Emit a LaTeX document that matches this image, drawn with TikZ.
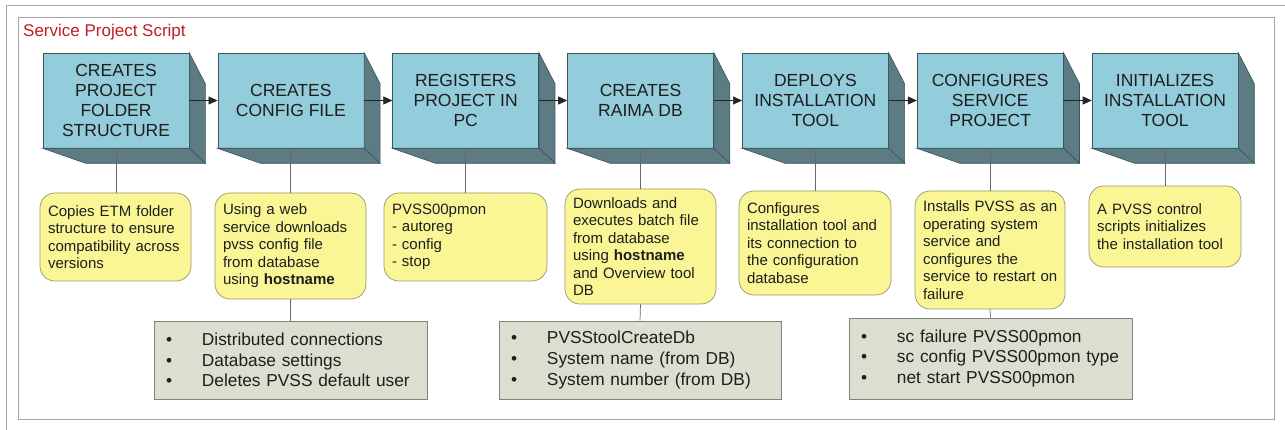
\documentclass[tikz,border=0pt]{standalone}
\usepackage{fontspec}
\setmainfont{Liberation Sans}
\usetikzlibrary{arrows.meta,calc}
\definecolor{front}{RGB}{147,204,219}
\definecolor{side}{RGB}{93,123,131}
\definecolor{edge}{RGB}{58,84,92}
\definecolor{yel}{RGB}{250,246,150}
\definecolor{yeledge}{RGB}{150,150,110}
\definecolor{gry}{RGB}{220,223,207}
\definecolor{gryedge}{RGB}{130,130,125}
\definecolor{ttl}{RGB}{192,30,36}
\definecolor{framec}{RGB}{165,165,165}
\definecolor{txt}{RGB}{30,30,30}
\newcommand\lstbullet{\makebox[36pt][l]{\textbullet}}
\begin{document}
\begin{tikzpicture}[x=1pt,y=-1pt,
  stepbox/.style={draw=edge, line width=0.6pt, fill=front, text=txt, minimum width=146pt, minimum height=95pt, inner sep=0pt, align=center, font=\fontsize{17.5}{20}\selectfont},
  face/.style={draw=edge, line width=0.6pt, fill=side},
  note/.style={draw=yeledge, line width=0.7pt, fill=yel, text=txt, rounded corners=15pt, inner xsep=8pt, inner ysep=0pt, align=left, font=\fontsize{15}{17.5}\selectfont},
  list/.style={draw=gryedge, line width=0.7pt, fill=gry, text=txt, inner xsep=12pt, inner ysep=0pt, align=left, font=\fontsize{17.3}{20.7}\selectfont},
  flow/.style={draw=black!85, line width=0.7pt, -{Triangle[length=9pt,width=8pt]}},
  link/.style={draw=black!60, line width=0.7pt}]
\useasboundingbox (0,0) rectangle (1285,430);
\fill[white] (0,0) rectangle (1285,430);
% frames
\draw[framec, line width=1pt] (6,430) -- (6,6) -- (1285,6);
\draw[framec, line width=0.8pt] (18,17) rectangle (1274,419);
\node[anchor=west, text=ttl, font=\fontsize{17}{20}\selectfont, inner sep=0pt] (title) at (23,32) {Service Project Script};
% step boxes
\node[stepbox] (b1) at (116,100.5) {CREATES\\PROJECT\\FOLDER\\STRUCTURE};
\node[stepbox] (b2) at (290.83,100.5) {CREATES\\CONFIG FILE};
\node[stepbox] (b3) at (465.67,100.5) {REGISTERS\\PROJECT IN\\PC};
\node[stepbox] (b4) at (640.5,100.5) {CREATES\\RAIMA DB};
\node[stepbox] (b5) at (815.33,100.5) {DEPLOYS\\INSTALLATION\\TOOL};
\node[stepbox] (b6) at (990.17,100.5) {CONFIGURES\\SERVICE\\PROJECT};
\node[stepbox] (b7) at (1165,100.5) {INITIALIZES\\INSTALLATION\\TOOL};
\foreach \i in {1,...,7}{
  \draw[face] (b\i.north east) -- ++(16,31) -- ($(b\i.south east)+(16,15)$) -- (b\i.south east) -- cycle;
  \draw[face] (b\i.south west) -- ++(43,15) -- ($(b\i.south east)+(16,15)$) -- (b\i.south east) -- cycle;
}
% notes
\node[note, minimum width=151pt, minimum height=88pt, text width=135pt] (n1) at (115.5,237) {\mbox{Copies ETM folder}\\\mbox{structure to ensure}\\\mbox{compatibility across}\\versions};
\node[note, minimum width=151pt, minimum height=106pt, text width=135pt] (n2) at (290.5,246) {Using a web\\\mbox{service downloads}\\\mbox{pvss config file}\\\mbox{from database}\\\mbox{using \textbf{hostname}}};
\node[note, minimum width=163pt, minimum height=88pt, text width=147pt] (n3) at (465.5,237) {PVSS00pmon\\- autoreg\\- config\\- stop};
\node[note, minimum width=151pt, minimum height=115pt, text width=135pt] (n4) at (640.5,246.5) {\mbox{Downloads and}\\\mbox{executes batch file}\\\mbox{from database}\\\mbox{using \textbf{hostname}}\\\mbox{and Overview tool}\\DB};
\node[note, minimum width=152pt, minimum height=104pt, text width=136pt] (n5) at (815,243) {Configures\\\mbox{installation tool and}\\\mbox{its connection to}\\\mbox{the configuration}\\database};
\node[note, minimum width=150pt, minimum height=118pt, text width=134pt] (n6) at (990,250) {\mbox{Installs PVSS as an}\\\mbox{operating system}\\\mbox{service and}\\\mbox{configures the}\\\mbox{service to restart on}\\failure};
\node[note, minimum width=152pt, minimum height=81pt, text width=136pt] (n7) at (1165,226.5) {\mbox{A PVSS control}\\\mbox{scripts initializes}\\\mbox{the installation tool}};
% lists
\node[list, minimum width=273pt, minimum height=78pt, text width=249pt] (g1) at (290.5,360) {\lstbullet Distributed connections\\\lstbullet Database settings\\\lstbullet Deletes PVSS default user};
\node[list, minimum width=282pt, minimum height=78pt, text width=258pt] (g2) at (640,360) {\lstbullet PVSStoolCreateDb\\\lstbullet System name (from DB)\\\lstbullet System number (from DB)};
\node[list, minimum width=283pt, minimum height=81pt, text width=259pt] (g3) at (990.5,358.5) {\lstbullet sc failure PVSS00pmon\\\lstbullet sc config PVSS00pmon type\\\lstbullet net start PVSS00pmon};
% connectors
\foreach \i/\j in {1/2,2/3,3/4,4/5,5/6,6/7}{
  \draw[flow] (b\i.east) -- (b\j.west);
}
\foreach \i in {1,...,7}{
  \draw[link] (b\i.south) -- (b\i.south |- n\i.north);
}
\draw[link] (n2.south) -- (g1.north);
\draw[link] (n4.south) -- (g2.north);
\draw[link] (n6.south) -- (g3.north);
\end{tikzpicture}
\end{document}
